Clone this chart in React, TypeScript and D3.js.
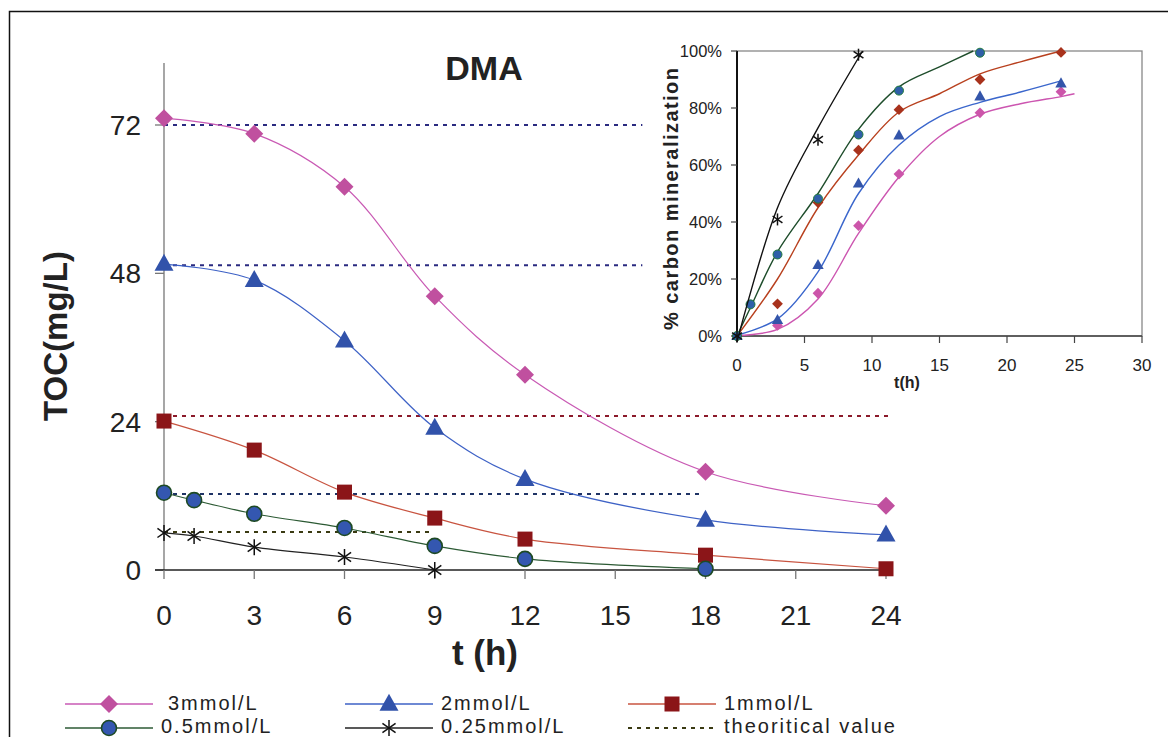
import React from "react";
import * as d3 from "d3";

// ---------- Main chart data ----------
const timesMain = [0, 3, 6, 9, 12, 18, 24];
const times05 = [0, 1, 3, 6, 9, 12, 18];
const times025 = [0, 1, 3, 6, 9];
const toc3 = [73.1, 70.6, 62.0, 44.3, 31.6, 15.9, 10.4];
const toc2 = [49.5, 46.9, 37.1, 23.0, 14.7, 8.1, 5.7];
const toc1 = [24.1, 19.4, 12.6, 8.4, 5.0, 2.4, 0.2];
const toc05 = [12.5, 11.3, 9.1, 6.8, 3.9, 1.8, 0.2];
const toc025 = [6.0, 5.5, 3.7, 2.1, 0.0];
const theoValues = [72, 49.3, 24.9, 12.3, 6.15];
const theoEnds = [15.9, 15.9, 24.1, 17.8, 8.9];
const xTicksMain = [0, 3, 6, 9, 12, 15, 18, 21, 24];
const yTicksMain = [0, 24, 48, 72];
const legendLabels = ["3mmol/L", "2mmol/L", "1mmol/L", "0.5mmol/L", "0.25mmol/L", "theoritical value"];

// ---------- Inset data ----------
const insetT = [0, 3, 6, 9, 12, 18, 24];
const insetT05 = [0, 1, 3, 6, 9, 12, 18];
const insetT025 = [0, 3, 6, 9];
const min3 = [0, 0.037, 0.15, 0.387, 0.568, 0.783, 0.857];
const min2 = [0, 0.056, 0.249, 0.535, 0.704, 0.841, 0.886];
const min1 = [0, 0.113, 0.468, 0.652, 0.794, 0.90, 0.995];
const min05 = [0, 0.111, 0.286, 0.482, 0.707, 0.861, 0.994];
const min025 = [0, 0.409, 0.689, 0.987];
const fitT3 = [0, 3, 6, 9, 12, 15, 18, 21, 24, 25];
const fit3 = [0.002, 0.023, 0.13, 0.36, 0.558, 0.70, 0.778, 0.815, 0.84, 0.85];
const fitT2 = [0, 3, 6, 9, 12, 15, 18, 21, 24];
const fit2 = [0.003, 0.06, 0.225, 0.50, 0.67, 0.77, 0.82, 0.856, 0.895];
const fitT1 = [0, 3, 6, 9, 12, 15, 18, 21, 24];
const fit1 = [0, 0.20, 0.45, 0.635, 0.786, 0.85, 0.92, 0.962, 1.0];
const fitT05 = [0, 1, 3, 6, 9, 12, 15, 17.5];
const fit05 = [0, 0.10, 0.295, 0.50, 0.725, 0.874, 0.944, 1.0];
const fitT025 = [0, 3, 6, 9.3];
const fit025 = [-0.02, 0.45, 0.73, 1.0];
const insetXTicks = [0, 5, 10, 15, 20, 25, 30];
const insetYTicks = [0, 0.2, 0.4, 0.6, 0.8, 1.0];

const FONT = "'Liberation Sans', Arial, sans-serif";

const C = {
  pinkLine: "#C95AB4",
  pinkMark: "#C0509F",
  blueLine: "#3E62C6",
  blueMark: "#3152AA",
  redLine: "#C85440",
  redMark: "#8B1518",
  greenLine: "#2C5A34",
  circFill: "#3457B0",
  circStroke: "#1E4A24",
  black: "#222",
  theo: ["#2A2A80", "#2A2A80", "#8B1A2A", "#1F3365", "#3A3A12"],
};

type Pt = [number, number];

function Marker({ type, x, y, s = 1, fill, stroke }: { type: string; x: number; y: number; s?: number; fill: string; stroke?: string }) {
  if (type === "diamond") {
    const r = 9 * s;
    return <path d={`M${x},${y - r}L${x + r},${y}L${x},${y + r}L${x - r},${y}Z`} fill={fill} />;
  }
  if (type === "triangle") {
    const w = 9.5 * s, h = 17 * s;
    return <path d={`M${x},${y - h * 0.6}L${x + w},${y + h * 0.4}L${x - w},${y + h * 0.4}Z`} fill={fill} />;
  }
  if (type === "square") {
    const r = 7.5 * s;
    return <rect x={x - r} y={y - r} width={2 * r} height={2 * r} fill={fill} />;
  }
  if (type === "circle") {
    return <circle cx={x} cy={y} r={7.5 * s} fill={fill} stroke={stroke} strokeWidth={1.6 * s} />;
  }
  if (type === "star") {
    const r = 8 * s;
    const a = (35 * Math.PI) / 180;
    const dx = Math.cos(a) * r, dy = Math.sin(a) * r;
    return (
      <g stroke={fill} strokeWidth={1.5} fill="none">
        <line x1={x} y1={y - r} x2={x} y2={y + r} />
        <line x1={x - dx} y1={y - dy} x2={x + dx} y2={y + dy} />
        <line x1={x - dx} y1={y + dy} x2={x + dx} y2={y - dy} />
      </g>
    );
  }
  return null;
}

export default function App() {
  // main scales
  const x = d3.scaleLinear().domain([0, 24]).range([164, 886]);
  const y = d3.scaleLinear().domain([0, 72]).range([570, 125]);
  const line = d3
    .line<Pt>()
    .x((d) => x(d[0]))
    .y((d) => y(d[1]))
    .curve(d3.curveCatmullRom.alpha(0.5));

  const series = [
    { t: timesMain, v: toc3, line: C.pinkLine, mark: C.pinkMark, type: "diamond" },
    { t: timesMain, v: toc2, line: C.blueLine, mark: C.blueMark, type: "triangle" },
    { t: timesMain, v: toc1, line: C.redLine, mark: C.redMark, type: "square" },
    { t: times05, v: toc05, line: C.greenLine, mark: C.circFill, stroke: C.circStroke, type: "circle" },
    { t: times025, v: toc025, line: C.black, mark: "#111", type: "star" },
  ];

  // inset scales
  const xi = d3.scaleLinear().domain([0, 30]).range([737, 1142]);
  const yi = d3.scaleLinear().domain([0, 1]).range([336, 51]);
  const iline = d3
    .line<Pt>()
    .x((d) => xi(d[0]))
    .y((d) => yi(d[1]))
    .curve(d3.curveCatmullRom.alpha(0.5));
  const insetSeries = [
    { t: insetT, v: min3, ft: fitT3, fv: fit3, line: "#CC55B0", mark: "#CC55AA", type: "diamond", s: 0.6 },
    { t: insetT, v: min2, ft: fitT2, fv: fit2, line: "#3A66CC", mark: "#3355AA", type: "triangle", s: 0.6 },
    { t: insetT, v: min1, ft: fitT1, fv: fit1, line: "#B8401E", mark: "#A8321C", type: "diamond", s: 0.6 },
    { t: insetT05, v: min05, ft: fitT05, fv: fit05, line: "#1E4D2B", mark: "#2F5FA8", stroke: "#1E7A3A", type: "circle", s: 0.6 },
    { t: insetT025, v: min025, ft: fitT025, fv: fit025, line: "#111", mark: "#111", type: "star", s: 0.75 },
  ];

  const legendItems = [
    { col: 0, row: 0, color: C.pinkLine, mark: C.pinkMark, type: "diamond" },
    { col: 1, row: 0, color: C.blueLine, mark: C.blueMark, type: "triangle" },
    { col: 2, row: 0, color: C.redLine, mark: C.redMark, type: "square" },
    { col: 0, row: 1, color: C.greenLine, mark: C.circFill, stroke: C.circStroke, type: "circle" },
    { col: 1, row: 1, color: C.black, mark: "#111", type: "star" },
    { col: 2, row: 1, color: "#3A3A12", mark: "", type: "dotted" },
  ];
  const legendColX = [65, 345, 628];
  const legendRowY = [704, 728];
  const legendTextY = [710, 733];
  const legendTextX = [[168, 441, 724], [161, 441, 724]];

  return (
    <svg width={1168} height={737} style={{ position: "absolute", left: 0, top: 0, background: "#fff" }} fontFamily={FONT}>
      <rect x={0} y={0} width={1168} height={737} fill="#fff" />
      {/* outer frame */}
      <path d="M9.5,740 L9.5,11.5 L1168,11.5" fill="none" stroke="#111" strokeWidth={1.5} />

      {/* title */}
      <text x={484} y={80} textAnchor="middle" fontSize={34} fontWeight="bold" fill="#222">DMA</text>

      {/* theoretical lines */}
      {theoValues.map((v, i) => (
        <line key={"th" + i} x1={x(0)} x2={x(theoEnds[i])} y1={y(v)} y2={y(v)} stroke={C.theo[i]} strokeWidth={2} strokeDasharray="4,5" />
      ))}

      {/* axes */}
      <line x1={164} x2={164} y1={63} y2={570} stroke="#777" strokeWidth={1.3} />
      {yTicksMain.map((v) => (
        <g key={"yt" + v}>
          <line x1={155} x2={164} y1={y(v)} y2={y(v)} stroke="#777" strokeWidth={1.3} />
          <text x={141} y={y(v) + 10} textAnchor="end" fontSize={28} fill="#222">{v}</text>
        </g>
      ))}
      <line x1={155} x2={x(24) + 4} y1={570} y2={570} stroke="#222" strokeWidth={1.5} />
      {xTicksMain.map((t) => (
        <g key={"xt" + t}>
          <line x1={x(t)} x2={x(t)} y1={570} y2={579} stroke="#777" strokeWidth={1.3} />
          <text x={x(t)} y={625} textAnchor="middle" fontSize={28} fill="#222">{t}</text>
        </g>
      ))}
      <text x={485} y={665} textAnchor="middle" fontSize={35} fontWeight="bold" fill="#222">t (h)</text>
      <text transform="translate(67,336) rotate(-90)" textAnchor="middle" fontSize={33} fontWeight="bold" fill="#222">TOC(mg/L)</text>

      {/* series */}
      {series.map((s, i) => {
        const pts: Pt[] = s.t.map((t, j) => [t, s.v[j]]);
        return (
          <g key={"s" + i}>
            <path d={line(pts) || ""} fill="none" stroke={s.line} strokeWidth={1.2} />
            {pts.map((p, j) => (
              <Marker key={j} type={s.type} x={x(p[0])} y={y(p[1])} fill={s.mark} stroke={(s as any).stroke} />
            ))}
          </g>
        );
      })}

      {/* legend */}
      {legendItems.map((it, i) => {
        const lx = legendColX[it.col];
        const ly = legendRowY[it.row];
        return (
          <g key={"lg" + i}>
            {it.type === "dotted" ? (
              <line x1={lx} x2={lx + 88} y1={ly} y2={ly} stroke={it.color} strokeWidth={2} strokeDasharray="4,5" />
            ) : (
              <>
                <line x1={lx} x2={lx + 88} y1={ly} y2={ly} stroke={it.color} strokeWidth={1.3} />
                <Marker type={it.type} x={lx + 44} y={ly} fill={it.mark} stroke={(it as any).stroke} />
              </>
            )}
            <text x={legendTextX[it.row][it.col]} y={legendTextY[it.row]} fontSize={20} letterSpacing={2} fill="#222">{legendLabels[i]}</text>
          </g>
        );
      })}

      {/* inset */}
      <g>
        <rect x={xi(0)} y={yi(1)} width={xi(30) - xi(0)} height={yi(0) - yi(1)} fill="#fff" stroke="#888" strokeWidth={1.3} />
        <line x1={xi(0)} x2={xi(30)} y1={yi(0)} y2={yi(0)} stroke="#444" strokeWidth={1.3} />
        <line x1={xi(0)} x2={xi(0)} y1={yi(1)} y2={yi(0)} stroke="#111" strokeWidth={2} />
        {insetXTicks.map((t) => (
          <g key={"ixt" + t}>
            <line x1={xi(t)} x2={xi(t)} y1={yi(0)} y2={yi(0) + 7} stroke="#444" strokeWidth={1.2} />
            <text x={xi(t)} y={371} textAnchor="middle" fontSize={17} fill="#222">{t}</text>
          </g>
        ))}
        {insetYTicks.map((v) => (
          <g key={"iyt" + v}>
            <line x1={xi(0) - 6} x2={xi(0)} y1={yi(v)} y2={yi(v)} stroke="#444" strokeWidth={1.2} />
            <text x={722} y={yi(v) + 6} textAnchor="end" fontSize={16.5} fill="#222">{`${Math.round(v * 100)}%`}</text>
          </g>
        ))}
        <text x={907} y={388} textAnchor="middle" fontSize={16} fontWeight="bold" fill="#222">t(h)</text>
        <text transform="translate(678,199) rotate(-90)" textAnchor="middle" fontSize={20} fontWeight="bold" fill="#222" textLength={262} lengthAdjust="spacing">% carbon mineralization</text>
        {insetSeries.map((s, i) => {
          const fpts: Pt[] = s.ft.map((t, j) => [t, s.fv[j]]);
          const pts: Pt[] = s.t.map((t, j) => [t, s.v[j]]);
          return (
            <g key={"is" + i}>
              <path d={iline(fpts) || ""} fill="none" stroke={s.line} strokeWidth={1.4} />
              {pts.map((p, j) => (
                <Marker key={j} type={s.type} x={xi(p[0])} y={yi(p[1])} s={s.s} fill={s.mark} stroke={(s as any).stroke} />
              ))}
            </g>
          );
        })}
      </g>
    </svg>
  );
}
